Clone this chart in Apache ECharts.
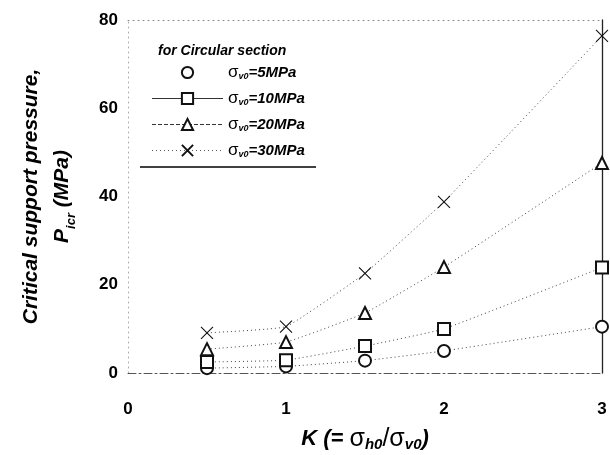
<!DOCTYPE html>
<html>
<head>
<meta charset="utf-8">
<script src="https://cdn.jsdelivr.net/npm/echarts@6/dist/echarts.min.js"></script>
<style>
  html, body { margin: 0; padding: 0; background: #fff; }
  #chart { width: 610px; height: 455px; }
</style>
</head>
<body>
<div id="chart"></div>
<script>
// K = sigma_h0 / sigma_v0
var kValues = [0.5, 1, 1.5, 2, 3];
// critical support pressure (MPa) for each sigma_v0
var p5  = [1.1, 1.5, 2.8, 5.0, 10.5];
var p10 = [2.5, 2.9, 6.1, 10.0, 23.9];
var p20 = [5.4, 7.0, 13.6, 24.0, 47.6];
var p30 = [9.1, 10.5, 22.6, 38.8, 76.4];
var seriesNames = ['σv0=5MPa', 'σv0=10MPa', 'σv0=20MPa', 'σv0=30MPa'];
var xTicks = [0, 1, 2, 3];
var yTicks = [0, 20, 40, 60, 80];

var font = 'Arial, "Liberation Sans", sans-serif';
var crossPath = 'path://M0,0L10,10M10,0L0,10';

function pairs(vals) {
    var out = [];
    for (var i = 0; i < kValues.length; i++) out.push([kValues[i], vals[i]]);
    return out;
}

function makeSeries(name, vals, symbol) {
    return {
        name: name,
        type: 'line',
        data: pairs(vals),
        smooth: 0.1,
        symbol: symbol,
        symbolSize: 12,
        showAllSymbol: true,
        lineStyle: { color: '#444', width: 1, type: [1, 3] },
        itemStyle: { color: '#111', borderColor: '#111', borderWidth: 1.1 },
        emphasis: { disabled: true },
        z: 5
    };
}

var myChart = echarts.init(document.getElementById('chart'), null, { renderer: 'canvas' });

var legendRich = {
    s: { fontFamily: font, fontSize: 17, color: '#000' },
    sub: { fontFamily: font, fontSize: 9, fontWeight: 'bold', fontStyle: 'italic', color: '#000', verticalAlign: 'bottom', padding: [7, 0, 0, 0] },
    t: { fontFamily: font, fontSize: 15, fontWeight: 'bold', fontStyle: 'italic', color: '#000' }
};

var legendLines = [
    { opacity: 0 },
    { color: '#333', width: 1, type: 'solid' },
    { color: '#333', width: 1, type: 'dashed' },
    { color: '#555', width: 1, type: [1, 3] }
];

var option = {
    animation: false,
    backgroundColor: '#fff',
    title: {
        text: 'for Circular section',
        left: 153,
        top: 39,
        textStyle: { fontFamily: font, fontSize: 14, fontWeight: 'bold', fontStyle: 'italic', color: '#000' }
    },
    legend: {
        orient: 'vertical',
        left: 146,
        top: 59,
        itemWidth: 71,
        itemHeight: 14,
        itemGap: 9,
        selectedMode: false,
        data: seriesNames.map(function (n, i) {
            return { name: n, lineStyle: legendLines[i] };
        }),
        formatter: function (name) {
            var m = name.match(/^σv0(.*)$/);
            return '{s|σ}{sub|v0}{t|' + m[1] + '}';
        },
        textStyle: { rich: legendRich, padding: [0, 0, 0, 0] }
    },
    graphic: [{
        type: 'line',
        shape: { x1: 140, y1: 167, x2: 316, y2: 167 },
        style: { stroke: '#000', lineWidth: 1.3 }
    }],
    grid: { left: 128, right: 8, top: 20, bottom: 82, outerBoundsMode: 'none' },
    xAxis: [{
        type: 'value',
        min: xTicks[0],
        max: xTicks[xTicks.length - 1],
        interval: 1,
        name: '{k|K (= }{s|σ}{sub|h0}{s|/σ}{sub|v0}{k|)}',
        nameLocation: 'middle',
        nameGap: 53,
        nameTextStyle: {
            rich: {
                k: { fontFamily: font, fontSize: 22, fontWeight: 'bold', fontStyle: 'italic', color: '#000' },
                s: { fontFamily: font, fontSize: 25, color: '#000' },
                sub: { fontFamily: font, fontSize: 15, fontWeight: 'bold', fontStyle: 'italic', color: '#000', verticalAlign: 'bottom', padding: [11, 0, 0, 0] }
            }
        },
        axisLine: { show: true, onZero: false, lineStyle: { color: '#555', width: 1, type: [8, 3, 2, 3] } },
        axisTick: { show: false },
        splitLine: { show: false },
        axisLabel: {
            margin: 28,
            fontFamily: font, fontSize: 17, fontWeight: 'bold', color: '#000'
        }
    }, {
        type: 'value',
        position: 'top',
        min: xTicks[0],
        max: xTicks[xTicks.length - 1],
        axisLine: { show: true, onZero: false, lineStyle: { color: '#888', width: 1, type: [1, 4] } },
        axisTick: { show: false },
        axisLabel: { show: false },
        splitLine: { show: false }
    }],
    yAxis: [{
        type: 'value',
        min: yTicks[0],
        max: yTicks[yTicks.length - 1],
        interval: 20,
        name: 'Critical support pressure,\n{p|P}{sub|icr}{p| (MPa)}',
        nameLocation: 'middle',
        nameRotate: 90,
        nameGap: 50,
        nameTextStyle: {
            fontFamily: font, fontSize: 21, fontWeight: 'bold', fontStyle: 'italic', color: '#000',
            lineHeight: 31,
            rich: {
                p: { fontFamily: font, fontSize: 21, fontWeight: 'bold', fontStyle: 'italic', color: '#000', lineHeight: 31 },
                sub: { fontFamily: font, fontSize: 13, fontWeight: 'bold', fontStyle: 'italic', color: '#000', verticalAlign: 'bottom', lineHeight: 31, padding: [10, 0, 0, 0] }
            }
        },
        axisLine: { show: true, onZero: false, lineStyle: { color: '#aaa', width: 1, type: [1, 4] } },
        axisTick: { show: false },
        splitLine: { show: false },
        axisLabel: {
            margin: 10,
            fontFamily: font, fontSize: 17, fontWeight: 'bold', color: '#000'
        }
    }, {
        type: 'value',
        position: 'right',
        min: yTicks[0],
        max: yTicks[yTicks.length - 1],
        axisLine: { show: true, onZero: false, lineStyle: { color: '#222', width: 1.3 } },
        axisTick: { show: false },
        axisLabel: { show: false },
        splitLine: { show: false }
    }],
    series: [
        makeSeries(seriesNames[0], p5, 'emptyCircle'),
        makeSeries(seriesNames[1], p10, 'emptyRect'),
        makeSeries(seriesNames[2], p20, 'emptyTriangle'),
        makeSeries(seriesNames[3], p30, crossPath)
    ]
};

if (option)
    myChart.setOption(option);
</script>
</body>
</html>
